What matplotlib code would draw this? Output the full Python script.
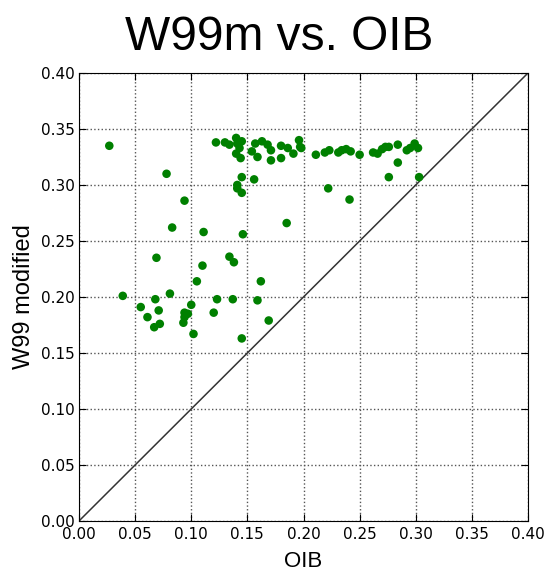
import matplotlib
matplotlib.use("Agg")
import matplotlib.pyplot as plt

plt.rcParams['font.family'] = ['Liberation Sans', 'DejaVu Sans']

oib = [0.027, 0.078, 0.122, 0.130, 0.134, 0.140, 0.141, 0.145, 0.140, 0.144, 0.143,
       0.154, 0.159, 0.157, 0.163, 0.168, 0.171, 0.171, 0.180, 0.180, 0.186, 0.191,
       0.196, 0.197, 0.198, 0.211, 0.219, 0.223, 0.231, 0.234, 0.238, 0.242, 0.250,
       0.262, 0.266, 0.270, 0.273, 0.276, 0.284, 0.292, 0.295, 0.299, 0.302,
       0.284, 0.276, 0.303, 0.222, 0.241,
       0.145, 0.156, 0.141, 0.141, 0.145, 0.094,
       0.185, 0.083, 0.111, 0.146, 0.069, 0.134, 0.138, 0.110, 0.105, 0.162,
       0.039, 0.081, 0.068, 0.123, 0.137, 0.159, 0.055, 0.100, 0.071, 0.061, 0.120,
       0.094, 0.097, 0.094, 0.093, 0.072, 0.067, 0.169, 0.102, 0.145]
w99m = [0.335, 0.310, 0.338, 0.338, 0.336, 0.342, 0.337, 0.339, 0.328, 0.324, 0.333,
        0.330, 0.325, 0.337, 0.339, 0.336, 0.331, 0.322, 0.335, 0.324, 0.333, 0.328,
        0.340, 0.334, 0.333, 0.327, 0.329, 0.331, 0.329, 0.331, 0.332, 0.330, 0.327,
        0.329, 0.328, 0.332, 0.334, 0.334, 0.336, 0.331, 0.333, 0.337, 0.333,
        0.320, 0.307, 0.307, 0.297, 0.287,
        0.307, 0.305, 0.300, 0.297, 0.293, 0.286,
        0.266, 0.262, 0.258, 0.256, 0.235, 0.236, 0.231, 0.228, 0.214, 0.214,
        0.201, 0.203, 0.198, 0.198, 0.198, 0.197, 0.191, 0.193, 0.188, 0.182, 0.186,
        0.186, 0.185, 0.182, 0.177, 0.176, 0.173, 0.179, 0.167, 0.163]

ticks = [0.00, 0.05, 0.10, 0.15, 0.20, 0.25, 0.30, 0.35, 0.40]

fig = plt.figure(figsize=(5.47, 5.71), dpi=100)
ax = fig.add_axes([0.1444, 0.0876, 0.8209, 0.7846])
ax.scatter(oib, w99m, s=38, color='green', edgecolors='none', zorder=3)
ax.plot([0, 0.4], [0, 0.4], color='#333333', lw=1.1, zorder=2)
ax.set_xlim(0, 0.4)
ax.set_ylim(0, 0.4)
ax.set_xticks(ticks)
ax.set_yticks(ticks)
ax.set_xticklabels([f"{t:.2f}" for t in ticks], family='DejaVu Sans')
ax.set_yticklabels([f"{t:.2f}" for t in ticks], family='DejaVu Sans')
ax.tick_params(direction='in', length=5, labelsize=11, top=True, right=True)
ax.tick_params(axis='x', pad=4.5)
ax.tick_params(axis='y', pad=3)
ax.grid(True, linestyle=':', color='#555555', lw=1)
ax.set_axisbelow(True)
ax.set_xlabel('OIB', fontsize=16, labelpad=6)
ax.set_ylabel('W99 modified', fontsize=17, labelpad=4)
fig.text(0.51, 0.935, 'W99m vs. OIB', fontsize=34.5, ha='center', va='center')
fig.savefig('out.png', dpi=100)
